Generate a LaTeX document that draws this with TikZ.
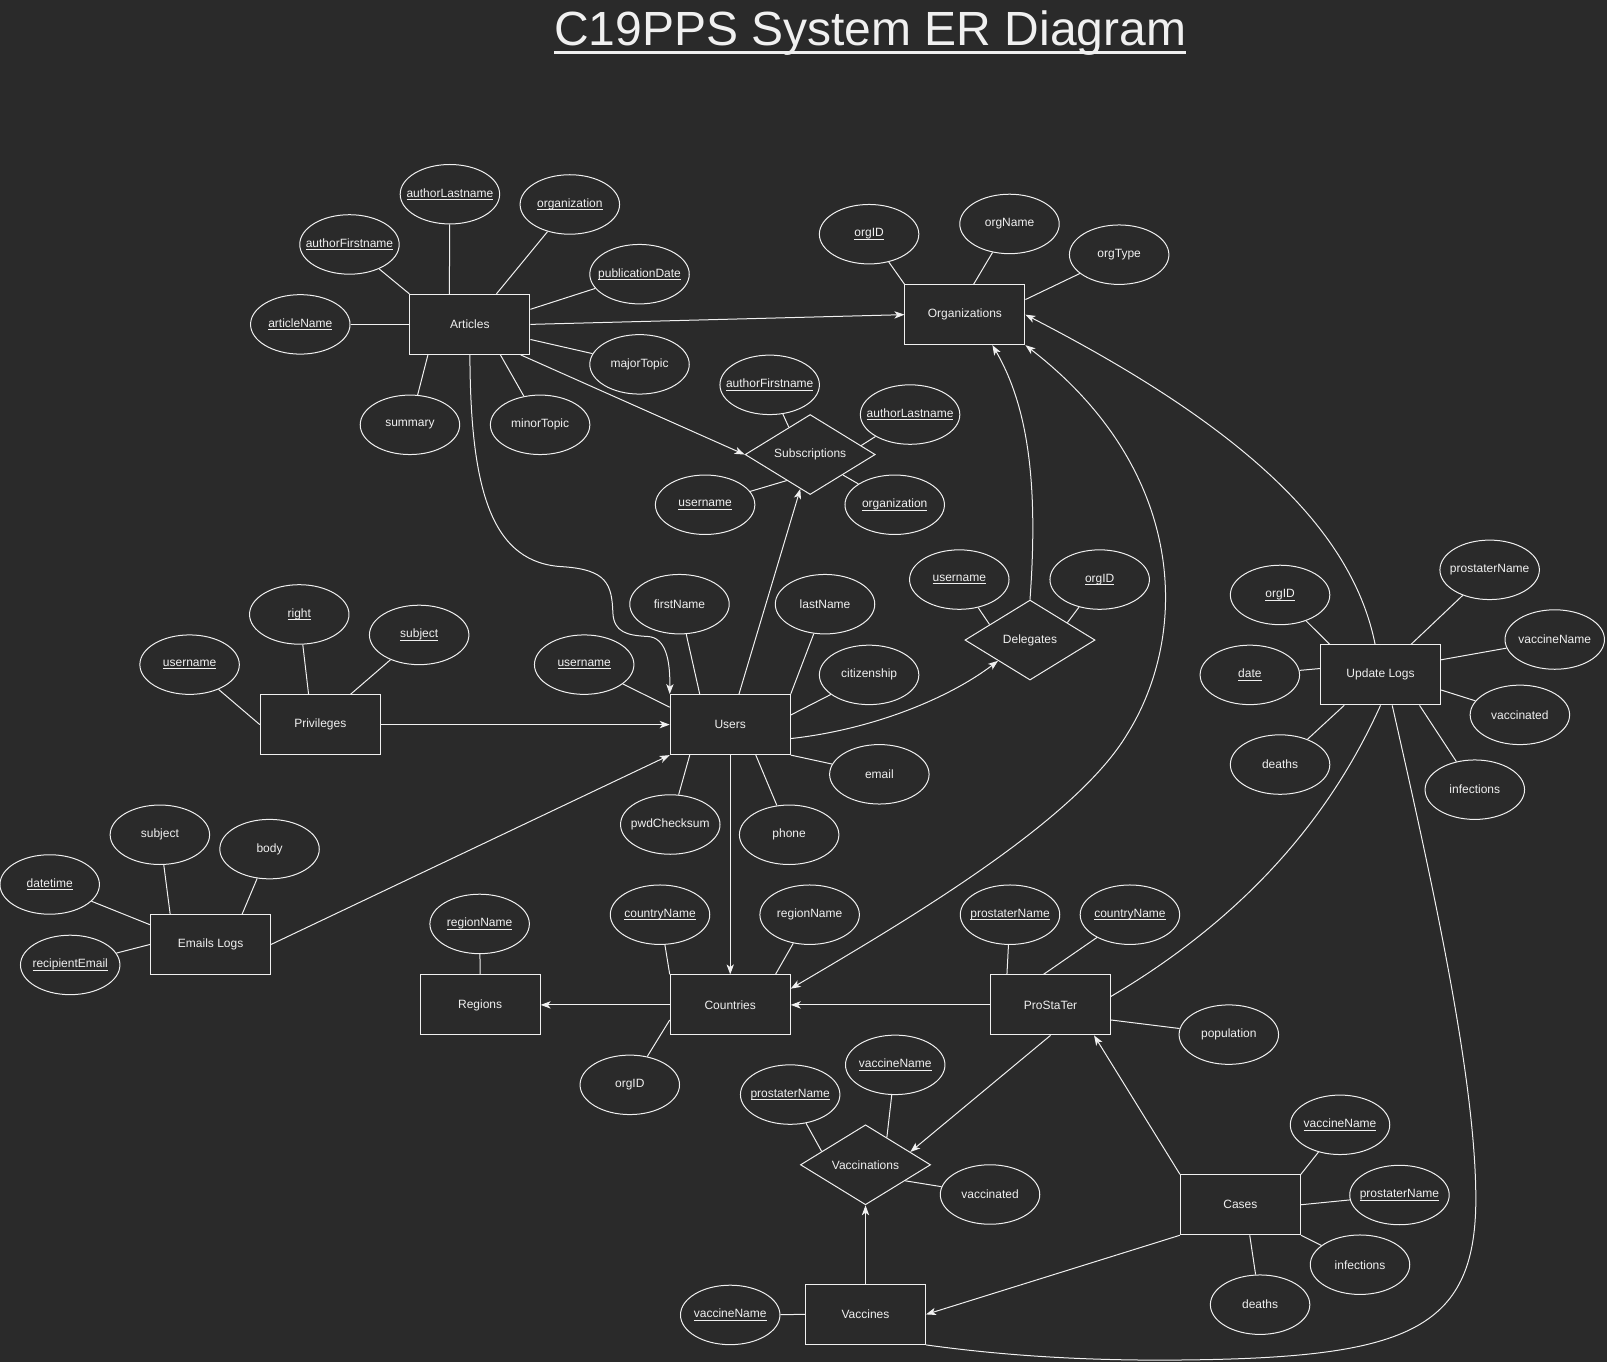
\documentclass[tikz,border=0pt]{standalone}
\usepackage{fontspec}
\setmainfont{Liberation Sans}
\usetikzlibrary{arrows.meta,shapes.geometric}
\definecolor{canvas}{HTML}{2A2A2A}
\definecolor{ink}{HTML}{F0F0F0}
\newcommand{\undl}[3]{\leavevmode\setbox0\hbox{#1}\rlap{\rule[#2]{\wd0}{#3}}\box0}
\newcommand{\keyul}[1]{\undl{#1}{-2.2pt}{0.7pt}}

\begin{document}
\begin{tikzpicture}[x=0.7687pt, y=-0.7687pt, color=ink, line width=0.75pt, every node/.style={font=\fontsize{9}{11}\selectfont, text=ink}, ent/.style={draw, minimum width=90pt, minimum height=45pt, inner sep=0pt}, attr/.style={ellipse, draw, minimum width=74.6pt, minimum height=44.6pt, inner sep=0pt, inner xsep=-12pt}, rel/.style={diamond, draw, aspect=1.6, minimum width=97.6pt, minimum height=60pt, inner sep=0pt}, arr/.style={-{Stealth[length=7.5pt,width=5.5pt,inset=2pt]}}, arrboth/.style={{Stealth[length=7.5pt,width=5.5pt,inset=2pt]}-{Stealth[length=7.5pt,width=5.5pt,inset=2pt]}}]
\path[use as bounding box, fill=canvas] (0,0) rectangle (1568,1329);
\node[font=\fontsize{36}{40}\selectfont, inner sep=0pt, anchor=base] (ttl) at (849,44) {\undl{C19PPS System ER Diagram}{-6.9pt}{2.3pt}};

\node[ent] (art) at (458.5,316.5) {Articles};
\node[ent] (org) at (941.5,307) {Organizations};
\node[ent] (usr) at (712.5,707) {Users};
\node[ent] (priv) at (312.5,707) {Privileges};
\node[ent] (mail) at (205.5,921.5) {Emails Logs};
\node[ent] (reg) at (468.5,980.5) {Regions};
\node[ent] (ctry) at (712.5,980.5) {Countries};
\node[ent] (pst) at (1025,980.5) {ProStaTer};
\node[ent] (upd) at (1347,658.5) {Update Logs};
\node[ent] (cas) at (1210.3,1175.5) {Cases};
\node[ent] (vac) at (844.5,1282.5) {Vaccines};
\node[rel] (sub) at (790.5,443.5) {Subscriptions};
\node[rel] (del) at (1005,624.5) {Delegates};
\node[rel] (vcn) at (844.5,1136.5) {Vaccinations};

\node[attr] (artAuthF) at (341,238.5) {\keyul{authorFirstname}};
\node[attr] (artAuthL) at (439,189.5) {\keyul{authorLastname}};
\node[attr] (artOrg) at (556,199.5) {\keyul{organization}};
\node[attr] (artPub) at (624,267.5) {\keyul{publicationDate}};
\node[attr] (artName) at (293,316.5) {\keyul{articleName}};
\node[attr] (artMajor) at (624,355.5) {majorTopic};
\node[attr] (artSum) at (400,414.5) {summary};
\node[attr] (artMinor) at (527,414.5) {minorTopic};
\node[attr] (orgId) at (848,228.5) {\keyul{orgID}};
\node[attr] (orgName) at (985,218.5) {orgName};
\node[attr] (orgType) at (1092,248.5) {orgType};
\node[attr] (subAuthF) at (751,375.5) {\keyul{authorFirstname}};
\node[attr] (subAuthL) at (888,404.5) {\keyul{authorLastname}};
\node[attr] (subUser) at (688,492.5) {\keyul{username}};
\node[attr] (subOrg) at (873,492.5) {\keyul{organization}};
\node[attr] (delUser) at (936,565.5) {\keyul{username}};
\node[attr] (delOrg) at (1073,565.5) {\keyul{orgID}};
\node[attr] (usrFirst) at (663,589.5) {firstName};
\node[attr] (usrLast) at (805,589.5) {lastName};
\node[attr] (usrName) at (570,648.5) {\keyul{username}};
\node[attr] (usrCit) at (848,658.5) {citizenship};
\node[attr] (usrMail) at (858,755.5) {email};
\node[attr] (usrPwd) at (654,804.5) {pwdChecksum};
\node[attr] (usrPhone) at (770,814.5) {phone};
\node[attr] (privRight) at (292,599.5) {\keyul{right}};
\node[attr] (privSubj) at (409,619.5) {\keyul{subject}};
\node[attr] (privUser) at (185,648.5) {\keyul{username}};
\node[attr] (mailSubj) at (156,814.5) {subject};
\node[attr] (mailBody) at (263,828.5) {body};
\node[attr] (mailDate) at (48.5,863) {\keyul{datetime}};
\node[attr] (mailRcpt) at (68.5,941.5) {\keyul{recipientEmail}};
\node[attr] (regName) at (468,901.5) {\keyul{regionName}};
\node[attr] (ctryName) at (644,892.5) {\keyul{countryName}};
\node[attr] (ctryReg) at (790,892.5) {regionName};
\node[attr] (ctryOrg) at (614.5,1058.5) {orgID};
\node[attr] (pstName) at (985.5,892.5) {\keyul{prostaterName}};
\node[attr] (pstCtry) at (1102.5,892.5) {\keyul{countryName}};
\node[attr] (pstPop) at (1199,1009.5) {population};
\node[attr] (updPst) at (1453.5,556) {prostaterName};
\node[attr] (updOrg) at (1249,580.5) {\keyul{orgID}};
\node[attr] (updVac) at (1517,624) {vaccineName};
\node[attr] (updDate) at (1219.5,658.5) {\keyul{date}};
\node[attr] (updVacc) at (1483,697.5) {vaccinated};
\node[attr] (updDeaths) at (1249,746) {deaths};
\node[attr] (updInf) at (1439,770.5) {infections};
\node[attr] (vcnVac) at (873.5,1039) {\keyul{vaccineName}};
\node[attr] (vcnPst) at (771,1068) {\keyul{prostaterName}};
\node[attr] (vcnVacc) at (966,1165.5) {vaccinated};
\node[attr] (casVac) at (1307.5,1097.5) {\keyul{vaccineName}};
\node[attr] (casPst) at (1365.5,1166) {\keyul{prostaterName}};
\node[attr] (casInf) at (1327,1234) {infections};
\node[attr] (casDeaths) at (1229.5,1273) {deaths};
\node[attr] (vacName) at (712.5,1283) {\keyul{vaccineName}};

\draw (artAuthF) -- (art.north west);
\draw (artAuthL) -- (art.124);
\draw (artOrg) -- (art.49);
\draw (artPub) -- (art.14);
\draw (artName) -- (art.west);
\draw (artMajor) -- (art.-14);
\draw (artSum) -- (art.216);
\draw (artMinor) -- (art.315);
\draw (orgId) -- (org.north west);
\draw (orgName) -- (org.74);
\draw (orgType) -- (org.14);
\draw (subAuthF) -- (sub.128);
\draw (subAuthL) -- (sub.10);
\draw (subUser) -- (sub.228);
\draw (subOrg) -- (sub.-32);
\draw (delUser) -- (del.159);
\draw (delOrg) -- (del.25);
\draw (usrFirst) -- (usr.135);
\draw (usrLast) -- (usr.north east);
\draw (usrName) -- (usr.164);
\draw (usrCit) -- (usr.9);
\draw (usrMail) -- (usr.south east);
\draw (usrPwd) -- (usr.217);
\draw (usrPhone) -- (usr.-50);
\draw (privRight) -- (priv.111);
\draw (privSubj) -- (priv.45);
\draw (privUser) -- (priv.west);
\draw (mailSubj) -- (mail.143);
\draw (mailBody) -- (mail.44);
\draw (mailDate) -- (mail.162);
\draw (mailRcpt) -- (mail.west);
\draw (regName) -- (reg.north);
\draw (ctryName) -- (ctry.north west);
\draw (ctryReg) -- (ctry.34);
\draw (ctryOrg) -- (ctry.194);
\draw (pstName) -- (pst.145);
\draw (pstCtry) -- (pst.103);
\draw (pstPop) -- (pst.-14);
\draw (updPst) -- (upd.45);
\draw (updOrg) -- (upd.149);
\draw (updVac) -- (upd.14);
\draw (updDate) -- (upd.174);
\draw (updVacc) -- (upd.-14);
\draw (updDeaths) -- (upd.220);
\draw (updInf) -- (upd.-38);
\draw (vcnVac) -- (vcn.52);
\draw (vcnPst) -- (vcn.163);
\draw (vcnVacc) -- (vcn.-22);
\draw (casVac) -- (cas.north east);
\draw (casPst) -- (cas.east);
\draw (casInf) -- (cas.south east);
\draw (casDeaths) -- (cas.-73);
\draw (vacName) -- (vac.west);

\draw[arr] (art.east) -- (org.west);
\draw[arr] (art.-31) -- (sub.west);
\draw[arr] (art.south) .. controls (459,480) and (480,550) .. (550,553) .. controls (592,556) and (597,570) .. (598,598) .. controls (599,617) and (612,620) .. (632,621) .. controls (650,622) and (654,645) .. (usr.north west);
\draw[arr] (usr.74) -- (sub.254);
\draw[arr] (usr.-13) .. controls (850,712) and (925,682) .. (del.213);
\draw[arr] (del.north) .. controls (1013,475) and (1004,398) .. (org.-48);
\draw[arrboth] (ctry.15) .. controls (890,895) and (1050,800) .. (1100,716) .. controls (1160,620) and (1160,460) .. (org.south east);
\draw[arr] (upd.100) .. controls (1320,520) and (1220,420) .. (org.east);
\draw (upd.south) .. controls (1310,770) and (1240,880) .. (pst.8);
\draw (upd.-69) .. controls (1395,850) and (1440,1050) .. (1440,1170) .. controls (1440,1300) and (1370,1325) .. (1150,1327) .. controls (1040,1328) and (960,1320) .. (vac.south east);
\draw[arr] (priv.east) -- (usr.west);
\draw[arr] (mail.east) -- (usr.south west);
\draw[arr] (usr) -- (ctry);
\draw[arr] (ctry) -- (reg);
\draw[arr] (pst) -- (ctry);
\draw[arr] (pst.south) -- (vcn.16);
\draw[arr] (vac) -- (vcn);
\draw[arr] (cas.north west) -- (pst.-35);
\draw[arr] (cas.south west) -- (vac.east);
\end{tikzpicture}
\end{document}
